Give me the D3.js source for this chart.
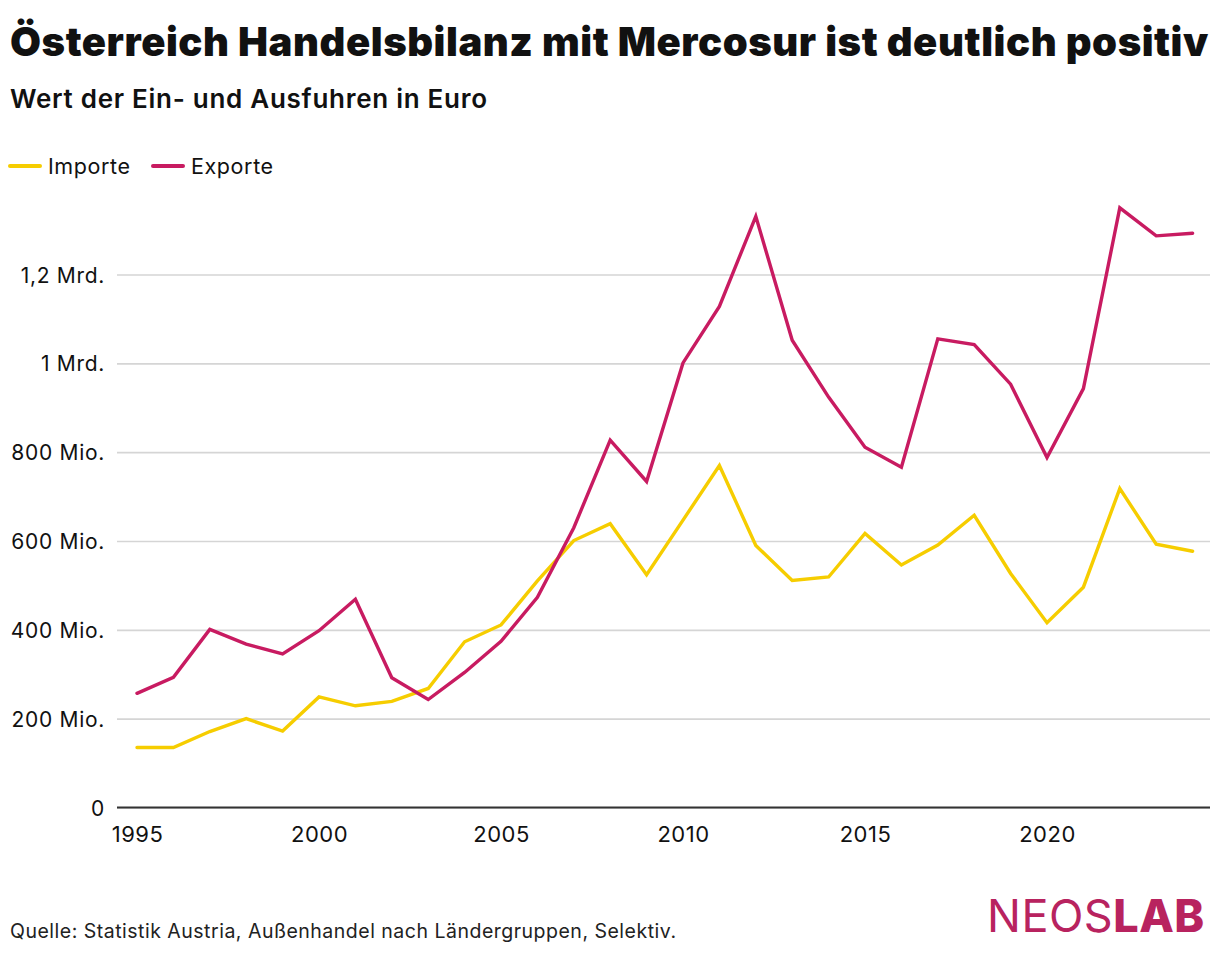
<!DOCTYPE html>
<html>
<head>
<meta charset="utf-8">
<script src="https://cdn.jsdelivr.net/npm/d3@7"></script>
<style>
  body { margin: 0; background: #fff; }
  text { font-family: Inter, "Noto Sans", sans-serif; fill: #111; }
</style>
</head>
<body>
<svg id="chart" width="1220" height="954"></svg>
<script>
// values in Mio. Euro
const years = d3.range(1995, 2025);
const importe = [135, 135, 171, 200, 172, 249, 229, 239, 268, 373,
                 411, 510, 601, 639, 524, 647, 770, 590, 511, 519,
                 617, 546, 591, 658, 527, 416, 496, 718, 593, 577];
const exporte = [257, 293, 401, 368, 346, 398, 469, 292, 243, 304,
                 374, 473, 630, 827, 734, 1001, 1128, 1331, 1052, 924,
                 811, 766, 1055, 1042, 953, 788, 943, 1350, 1287, 1293];
const yTicks = [0, 200, 400, 600, 800, 1000, 1200];
const yTickLabels = ["0", "200 Mio.", "400 Mio.", "600 Mio.", "800 Mio.", "1 Mrd.", "1,2 Mrd."];
const xTicks = [1995, 2000, 2005, 2010, 2015, 2020];

const IMP_COLOR = "#f6cd00";
const EXP_COLOR = "#c81b61";

const svg = d3.select("#chart");

const x = d3.scaleLinear().domain([1995, 2024]).range([137, 1192.6]);
const y = d3.scaleLinear().domain([0, 1200]).range([807.5, 274.5]);

// title, subtitle
const title = svg.append("text")
    .attr("x", 10).attr("y", 56)
    .style("font-size", "40px").style("font-weight", 900)
    .style("letter-spacing", "-0.3px")
    .text("Österreich Handelsbilanz mit Mercosur ist deutlich positiv");
// stretch to the width the original title takes
title.attr("textLength", 1198).attr("lengthAdjust", "spacing");

svg.append("text")
    .attr("x", 10).attr("y", 108)
    .style("font-size", "26px").style("font-weight", 600)
    .attr("textLength", 477).attr("lengthAdjust", "spacing")
    .text("Wert der Ein- und Ausfuhren in Euro");

// legend
const legend = [["Importe", IMP_COLOR, 10], ["Exporte", EXP_COLOR, 153]];
legend.forEach(([name, color, lx]) => {
    svg.append("line")
        .attr("x1", lx).attr("x2", lx + 30)
        .attr("y1", 166).attr("y2", 166)
        .attr("stroke", color).attr("stroke-width", 4)
        .attr("stroke-linecap", "round");
    svg.append("text")
        .attr("x", lx + 38).attr("y", 174)
        .style("font-size", "21.5px")
        .style("letter-spacing", "0.6px")
        .text(name);
});

// y grid + labels
const yAxis = svg.append("g")
    .attr("transform", "translate(117,0)")
    .call(d3.axisLeft(y).tickValues(yTicks)
        .tickSize(-1093)
        .tickFormat((d, i) => yTickLabels[i]));
yAxis.select(".domain").remove();
yAxis.selectAll(".tick line")
    .attr("stroke", "#d5d5d5").attr("stroke-width", 1.6);
yAxis.selectAll(".tick text")
    .attr("x", -12).attr("dy", "0.36em")
    .style("font-size", "21px").style("fill", "#111")
    .style("letter-spacing", "0.7px")
    .style("font-family", "Inter, 'Noto Sans', sans-serif");

// baseline
svg.append("line")
    .attr("x1", 117).attr("x2", 1210)
    .attr("y1", y(0)).attr("y2", y(0))
    .attr("stroke", "#333").attr("stroke-width", 2);

// x labels
const xAxis = svg.append("g")
    .attr("transform", "translate(0," + y(0) + ")")
    .call(d3.axisBottom(x).tickValues(xTicks).tickSize(0).tickFormat(d3.format("d")));
xAxis.select(".domain").remove();
xAxis.selectAll(".tick text")
    .attr("y", 19)
    .style("font-size", "22px").style("fill", "#111")
    .style("letter-spacing", "0.5px")
    .style("font-family", "Inter, 'Noto Sans', sans-serif");

// lines
const line = d3.line()
    .x((d, i) => x(years[i]))
    .y(d => y(d));

svg.append("path")
    .datum(importe)
    .attr("d", line)
    .attr("fill", "none")
    .attr("stroke", IMP_COLOR).attr("stroke-width", 3.4)
    .attr("stroke-linejoin", "miter").attr("stroke-linecap", "round");

svg.append("path")
    .datum(exporte)
    .attr("d", line)
    .attr("fill", "none")
    .attr("stroke", EXP_COLOR).attr("stroke-width", 3.4)
    .attr("stroke-linejoin", "miter").attr("stroke-linecap", "round");

// footer
svg.append("text")
    .attr("x", 10).attr("y", 938)
    .style("font-size", "19.5px")
    .style("fill", "#222")
    .attr("textLength", 666).attr("lengthAdjust", "spacing")
    .text("Quelle: Statistik Austria, Außenhandel nach Ländergruppen, Selektiv.");

// logo
const logo = svg.append("text")
    .attr("x", 987).attr("y", 932)
    .style("font-size", "45px")
    .style("letter-spacing", "0.5px");
logo.append("tspan").style("fill", "#b8235f").style("font-weight", 400).text("NEOS");
logo.append("tspan").style("fill", "#b8235f").style("font-weight", 800).text("LAB");
</script>
</body>
</html>
